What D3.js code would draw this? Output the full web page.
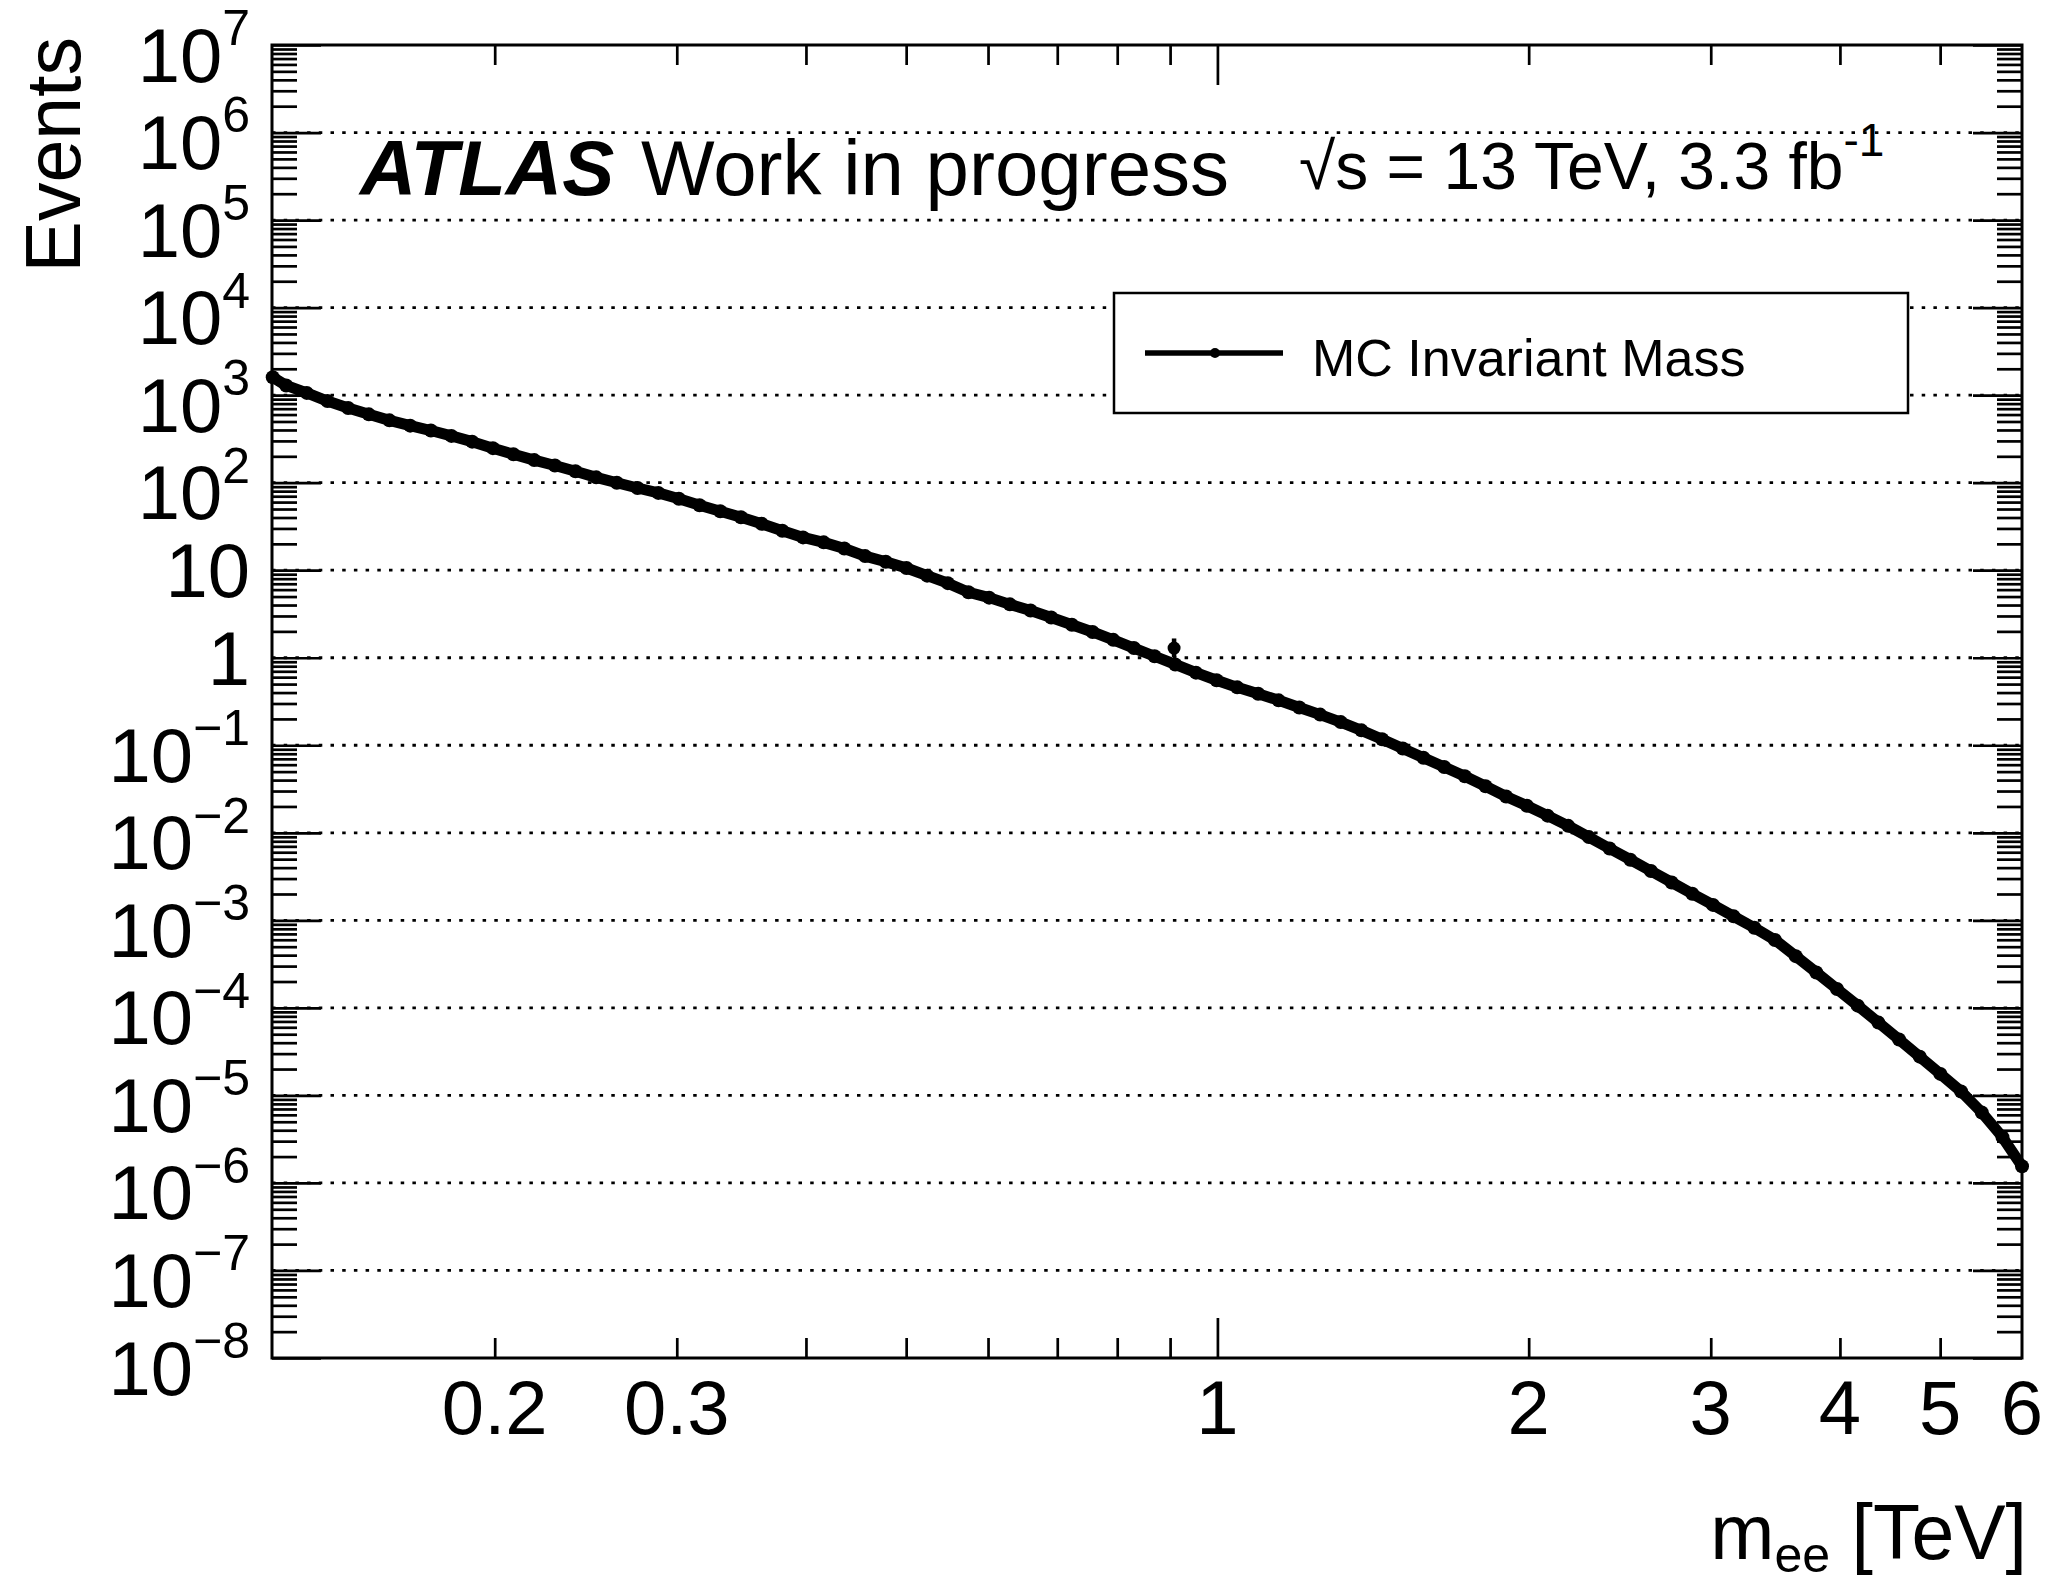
<!DOCTYPE html>
<html>
<head>
<meta charset="utf-8">
<script src="https://cdn.jsdelivr.net/npm/d3@7"></script>
<style>
  html, body { margin: 0; padding: 0; background: #fff; }
  svg { display: block; font-family: "Liberation Sans", Arial, Helvetica, sans-serif; }
</style>
</head>
<body>
<svg id="chart" width="2058" height="1584"></svg>
<script>
// Dielectron invariant-mass spectrum (MC), bin centres in TeV
const massTeV = [
  0.122, 0.1257, 0.1316, 0.1378, 0.1443, 0.1511, 0.1582, 0.1657, 0.1735, 0.1816,
  0.1902, 0.1992, 0.2085, 0.2184, 0.2287, 0.2394, 0.2507, 0.2625, 0.2749, 0.2879,
  0.3014, 0.3156, 0.3305, 0.3461, 0.3624, 0.3795, 0.3974, 0.4161, 0.4357, 0.4563,
  0.4778, 0.5003, 0.5239, 0.5486, 0.5744, 0.6015, 0.6299, 0.6596, 0.6906, 0.7232,
  0.7573, 0.7930, 0.8303, 0.8694, 0.9104, 0.9533, 0.9982, 1.045, 1.095, 1.146,
  1.200, 1.257, 1.316, 1.378, 1.443, 1.511, 1.582, 1.657, 1.735, 1.817,
  1.902, 1.992, 2.086, 2.184, 2.287, 2.395, 2.508, 2.626, 2.750, 2.879,
  3.015, 3.157, 3.306, 3.461, 3.625, 3.795, 3.974, 4.162, 4.358, 4.563,
  4.778, 5.003, 5.239, 5.486, 5.744, 6.0
];

// Expected events per bin
const events = [
  1600, 1290, 1060, 855, 713, 603, 515, 448, 394, 342,
  294, 248, 211, 181, 157, 135, 115, 99.8, 86.9, 76.4,
  65.6, 55.3, 47.2, 40.2, 33.9, 28.2, 23.7, 20.8, 17.7, 14.5,
  12.5, 10.6, 8.67, 7.11, 5.6, 4.86, 4.07, 3.46, 2.88, 2.38,
  1.97, 1.60, 1.29, 1.04, 0.838, 0.675, 0.553, 0.459, 0.388, 0.326,
  0.270, 0.224, 0.184, 0.148, 0.117, 0.0920, 0.0719, 0.0565, 0.0443, 0.0340,
  0.0260, 0.0204, 0.0157, 0.0120, 0.00893, 0.00662, 0.00493, 0.00366, 0.00271, 0.00201,
  0.00150, 0.00111, 0.000822, 0.000597, 0.000390, 0.000254, 0.000164, 0.000106, 6.79e-5, 4.35e-5,
  2.77e-5, 1.76e-5, 1.11e-5, 6.38e-6, 3.34e-6, 1.55e-6
];

// Low-statistics bin that sits above the trend, with its uncertainty
const fluctMass = [0.908];
const fluctEvents = [1.29];
const fluctErrLow = [1.02];
const fluctErrHigh = [1.66];

// Axis ticks and labels
const xLabelValues = [0.2, 0.3, 1, 2, 3, 4, 5, 6];
const xLabelTexts = ["0.2", "0.3", "1", "2", "3", "4", "5", "6"];
const xMinorTicks = [0.2, 0.3, 0.4, 0.5, 0.6, 0.7, 0.8, 0.9, 2, 3, 4, 5];
const xMajorTicks = [1];
const yExponents = [-8, -7, -6, -5, -4, -3, -2, -1, 0, 1, 2, 3, 4, 5, 6, 7];

const svg = d3.select("#chart");
const L = 272, R = 2022, T = 45, B = 1358;

const x = d3.scaleLog().domain([0.1218, 6]).range([L, R]);
const y = d3.scaleLog().domain([1e-8, 1e7]).range([B, T]);

svg.append("rect").attr("width", 2058).attr("height", 1584).attr("fill", "#fff");

// Dotted horizontal grid at every decade
const gridVals = yExponents.slice(1, -1).map(e => Math.pow(10, e));
svg.append("g").selectAll("line").data(gridVals).join("line")
  .attr("x1", L).attr("x2", R)
  .attr("y1", d => y(d)).attr("y2", d => y(d))
  .attr("stroke", "#000").attr("stroke-width", 2.8)
  .attr("stroke-dasharray", "3.5 8.2");

// Tick marks (inward, mirrored on the opposite sides)
function styleAxis(g) {
  g.select(".domain").remove();
  g.selectAll(".tick line").attr("stroke", "#000").attr("stroke-width", 2.7);
  g.selectAll(".tick text").remove();
}
svg.append("g").attr("transform", `translate(0,${B})`)
  .call(d3.axisBottom(x).tickValues(xMinorTicks).tickSize(-20).tickFormat("")).call(styleAxis);
svg.append("g").attr("transform", `translate(0,${B})`)
  .call(d3.axisBottom(x).tickValues(xMajorTicks).tickSize(-40).tickFormat("")).call(styleAxis);
svg.append("g").attr("transform", `translate(0,${T})`)
  .call(d3.axisTop(x).tickValues(xMinorTicks).tickSize(-20).tickFormat("")).call(styleAxis);
svg.append("g").attr("transform", `translate(0,${T})`)
  .call(d3.axisTop(x).tickValues(xMajorTicks).tickSize(-40).tickFormat("")).call(styleAxis);

const yMajor = yExponents.map(e => Math.pow(10, e));
const yMinor = [];
yExponents.slice(0, -1).forEach(e => {
  for (let m = 2; m <= 9; m++) yMinor.push(m * Math.pow(10, e));
});
svg.append("g").attr("transform", `translate(${L},0)`)
  .call(d3.axisLeft(y).tickValues(yMinor).tickSize(-25).tickFormat("")).call(styleAxis);
svg.append("g").attr("transform", `translate(${L},0)`)
  .call(d3.axisLeft(y).tickValues(yMajor).tickSize(-49).tickFormat("")).call(styleAxis);
svg.append("g").attr("transform", `translate(${R},0)`)
  .call(d3.axisRight(y).tickValues(yMinor).tickSize(-25).tickFormat("")).call(styleAxis);
svg.append("g").attr("transform", `translate(${R},0)`)
  .call(d3.axisRight(y).tickValues(yMajor).tickSize(-49).tickFormat("")).call(styleAxis);

// Frame
svg.append("rect").attr("x", L).attr("y", T).attr("width", R - L).attr("height", B - T)
  .attr("fill", "none").attr("stroke", "#000").attr("stroke-width", 3);

// Spectrum: dense markers joined by a thick line
const pts = massTeV.map((m, i) => ({ m, v: events[i] }));
const line = d3.line().x(d => x(d.m)).y(d => y(d.v));
svg.append("path").datum(pts).attr("d", line)
  .attr("fill", "none").attr("stroke", "#000").attr("stroke-width", 11)
  .attr("stroke-linejoin", "round").attr("stroke-linecap", "round");
svg.append("g").selectAll("circle").data(pts).join("circle")
  .attr("cx", d => x(d.m)).attr("cy", d => y(d.v)).attr("r", 7).attr("fill", "#000");

// Fluctuating bin with error bar
fluctMass.forEach((m, i) => {
  svg.append("line").attr("x1", x(m)).attr("x2", x(m))
    .attr("y1", y(fluctErrLow[i])).attr("y2", y(fluctErrHigh[i]))
    .attr("stroke", "#000").attr("stroke-width", 4.5);
  svg.append("circle").attr("cx", x(m)).attr("cy", y(fluctEvents[i])).attr("r", 6.5).attr("fill", "#000");
});

// X tick labels
svg.append("g").selectAll("text").data(xLabelValues).join("text")
  .attr("x", d => x(d)).attr("y", 1434)
  .attr("text-anchor", "middle").attr("font-size", 76)
  .text((d, i) => xLabelTexts[i]);

// Y tick labels
yExponents.forEach(e => {
  const gy = y(Math.pow(10, e));
  if (e === 0 || e === 1) {
    svg.append("text").attr("x", 250).attr("y", gy + 27)
      .attr("text-anchor", "end").attr("font-size", 76)
      .text(e === 0 ? "1" : "10");
  } else {
    const t = svg.append("text").attr("x", 250).attr("y", gy + 36.5)
      .attr("text-anchor", "end").attr("font-size", 76);
    t.append("tspan").text("10");
    t.append("tspan").attr("font-size", 50).attr("dy", -36.6)
      .text(e < 0 ? "\u2212" + Math.abs(e) : String(e));
  }
});

// Axis titles
svg.append("text").attr("transform", "translate(80,37) rotate(-90)")
  .attr("text-anchor", "end").attr("font-size", 77).text("Events");

const xt = svg.append("text").attr("x", 2027).attr("y", 1559)
  .attr("text-anchor", "end").attr("font-size", 77);
xt.append("tspan").text("m");
xt.append("tspan").attr("font-size", 50).attr("dy", 13).text("ee");
xt.append("tspan").attr("dy", -13).text(" [TeV]");

// Experiment label
svg.append("text").attr("x", 360).attr("y", 195)
  .attr("font-size", 78).attr("font-weight", "bold").attr("font-style", "italic")
  .text("ATLAS");
svg.append("text").attr("x", 641).attr("y", 195)
  .attr("font-size", 78).text("Work in progress");

const en = svg.append("text").attr("x", 1299).attr("y", 189).attr("font-size", 66);
en.append("tspan").text("\u221As = 13 TeV, 3.3 fb");
en.append("tspan").attr("font-size", 46).attr("dy", -33).text("-1");

// Legend
svg.append("rect").attr("x", 1114).attr("y", 293).attr("width", 794).attr("height", 120)
  .attr("fill", "#fff").attr("stroke", "#000").attr("stroke-width", 2.5);
svg.append("line").attr("x1", 1145).attr("x2", 1283).attr("y1", 353).attr("y2", 353)
  .attr("stroke", "#000").attr("stroke-width", 5.5);
svg.append("circle").attr("cx", 1215).attr("cy", 353).attr("r", 5).attr("fill", "#000");
svg.append("text").attr("x", 1312).attr("y", 376).attr("font-size", 52)
  .text("MC Invariant Mass");
</script>
</body>
</html>
